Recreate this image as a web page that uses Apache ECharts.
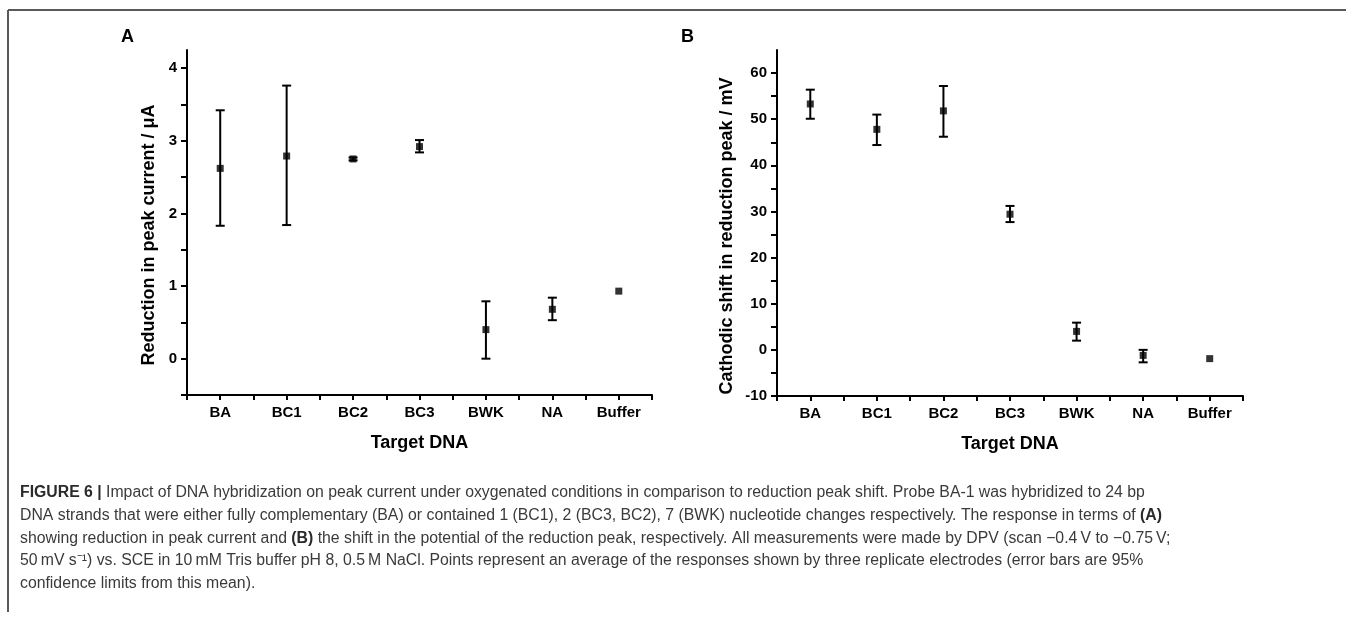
<!DOCTYPE html>
<html>
<head>
<meta charset="utf-8">
<script src="https://cdn.jsdelivr.net/npm/echarts@6/dist/echarts.min.js"></script>
<style>
html,body{margin:0;padding:0;background:#fff;}
#chart{width:1346px;height:621px;}
</style>
</head>
<body>
<div id="chart"></div>
<script>
// ---- data ----
const categories = ['BA', 'BC1', 'BC2', 'BC3', 'BWK', 'NA', 'Buffer'];
const categoryPos = [1, 2, 3, 4, 5, 6, 7];
const xTickValues = [0.5, 1, 1.5, 2, 2.5, 3, 3.5, 4, 4.5, 5, 5.5, 6, 6.5, 7, 7.5];

// Panel A: reduction in peak current (µA)
const currentMean = [2.62, 2.79, 2.75, 2.92, 0.40, 0.68, 0.93];
const currentLow  = [1.83, 1.84, 2.73, 2.84, 0.00, 0.53, 0.93];
const currentHigh = [3.42, 3.76, 2.77, 3.01, 0.79, 0.84, 0.93];
const currentTicks = [-0.5, 0, 0.5, 1, 1.5, 2, 2.5, 3, 3.5, 4];
const currentLabels = [0, 1, 2, 3, 4];

// Panel B: cathodic shift in reduction peak (mV)
const shiftMean = [53.3, 47.8, 51.8, 29.4, 4.0, -1.2, -1.9];
const shiftLow  = [50.1, 44.4, 46.2, 27.7, 2.0, -2.7, -1.9];
const shiftHigh = [56.4, 51.0, 57.2, 31.2, 5.9, 0.0, -1.9];
const shiftTicks = [-10, -5, 0, 5, 10, 15, 20, 25, 30, 35, 40, 45, 50, 55, 60];
const shiftLabels = [-10, 0, 10, 20, 30, 40, 50, 60];

const captionLines = [
  '{b|FIGURE 6 |} Impact of DNA hybridization on peak current under oxygenated conditions in comparison to reduction peak shift. Probe BA-1 was hybridized to 24 bp',
  'DNA strands that were either fully complementary (BA) or contained 1 (BC1), 2 (BC3, BC2), 7 (BWK) nucleotide changes respectively. The response in terms of {b|(A)}',
  'showing reduction in peak current and {b|(B)} the shift in the potential of the reduction peak, respectively. All measurements were made by DPV (scan \u22120.4\u2009V to \u22120.75\u2009V;',
  '50\u2009mV s\u207B\u00B9) vs. SCE in 10\u2009mM Tris buffer pH 8, 0.5\u2009M NaCl. Points represent an average of the responses shown by three replicate electrodes (error bars are 95%',
  'confidence limits from this mean).'
];

// ---- chart ----
const FONT = '"Liberation Sans", Arial, sans-serif';

function errRender(params, api) {
  const x = api.value(0);
  const lo = api.coord([x, api.value(1)]);
  const hi = api.coord([x, api.value(2)]);
  if (Math.abs(lo[1] - hi[1]) < 0.5) return null;
  const hw = 4.5;
  const st = { stroke: '#000', lineWidth: 2 };
  return {
    type: 'group',
    children: [
      { type: 'line', shape: { x1: lo[0], y1: lo[1], x2: hi[0], y2: hi[1] }, style: st },
      { type: 'line', shape: { x1: lo[0] - hw, y1: lo[1], x2: lo[0] + hw, y2: lo[1] }, style: st },
      { type: 'line', shape: { x1: hi[0] - hw, y1: hi[1], x2: hi[0] + hw, y2: hi[1] }, style: st }
    ]
  };
}

function xAxis(gridIndex) {
  return {
    type: 'value', gridIndex: gridIndex, min: 0.5, max: 7.5,
    splitLine: { show: false },
    axisLine: { show: true, onZero: false, lineStyle: { color: '#000', width: 2 } },
    axisTick: { show: true, inside: false, length: 5, lineStyle: { color: '#000', width: 2 }, customValues: xTickValues },
    axisLabel: {
      customValues: categoryPos, margin: 10,
      formatter: function (v) { return categories[Math.round(v) - 1] || ''; },
      color: '#000', fontFamily: FONT, fontWeight: 'bold', fontSize: 15
    },
    name: 'Target DNA', nameLocation: 'middle', nameGap: 39,
    nameTextStyle: { color: '#000', fontFamily: FONT, fontWeight: 'bold', fontSize: 18 }
  };
}

function yAxis(gridIndex, min, max, ticks, labels) {
  return {
    type: 'value', gridIndex: gridIndex, min: min, max: max,
    splitLine: { show: false },
    axisLine: { show: true, onZero: false, lineStyle: { color: '#000', width: 2 } },
    axisTick: { show: true, inside: false, length: 6, lineStyle: { color: '#000', width: 2 }, customValues: ticks },
    axisLabel: {
      customValues: labels, margin: 10,
      color: '#000', fontFamily: FONT, fontWeight: 'bold', fontSize: 15
    }
  };
}

function yTitle(text, x, y) {
  return {
    type: 'text', x: x, y: y, rotation: Math.PI / 2,
    style: { text: text, font: 'bold 18px ' + FONT, fill: '#000', align: 'center', verticalAlign: 'middle' }
  };
}

const chart = echarts.init(document.getElementById('chart'), null, { renderer: 'canvas' });

const captionGraphics = captionLines.map(function (line, i) {
  return {
    type: 'text', left: 20, top: 485 + i * 22.7,
    style: {
      text: line, fill: '#3a3a3a', font: '15.8px ' + FONT,
      rich: { b: { fontWeight: 'bold', fontFamily: FONT, fontSize: 15.8, fill: '#2a2a2a' } }
    }
  };
});

chart.setOption({
  animation: false,
  backgroundColor: '#fff',
  grid: [
    { left: 187, top: 50, width: 465, height: 345 },
    { left: 777, top: 50, width: 466, height: 346 }
  ],
  xAxis: [xAxis(0), xAxis(1)],
  yAxis: [
    yAxis(0, -0.5, 4.25, currentTicks, currentLabels),
    yAxis(1, -10, 65, shiftTicks, shiftLabels)
  ],
  graphic: [
    { type: 'line', shape: { x1: 8, y1: 10, x2: 1346, y2: 10 }, style: { stroke: '#5a5a5a', lineWidth: 2 } },
    { type: 'line', shape: { x1: 8, y1: 10, x2: 8, y2: 612 }, style: { stroke: '#5a5a5a', lineWidth: 2 } },
    { type: 'text', left: 121, top: 28, style: { text: 'A', font: 'bold 18px ' + FONT, fill: '#000' } },
    { type: 'text', left: 681, top: 28, style: { text: 'B', font: 'bold 18px ' + FONT, fill: '#000' } },
    yTitle('Reduction in peak current / \u03BCA', 149, 235),
    yTitle('Cathodic shift in reduction peak / mV', 727, 236)
  ].concat(captionGraphics),
  series: [
    {
      type: 'custom', xAxisIndex: 0, yAxisIndex: 0, renderItem: errRender,
      encode: { x: 0, y: [1, 2] },
      data: categoryPos.map(function (p, i) { return [p, currentLow[i], currentHigh[i]]; }), z: 2
    },
    {
      type: 'scatter', xAxisIndex: 0, yAxisIndex: 0, symbol: 'rect', symbolSize: 7,
      itemStyle: { color: '#000' },
      data: categoryPos.map(function (p, i) { return [p, currentMean[i]]; }), z: 3
    },
    {
      type: 'custom', xAxisIndex: 1, yAxisIndex: 1, renderItem: errRender,
      encode: { x: 0, y: [1, 2] },
      data: categoryPos.map(function (p, i) { return [p, shiftLow[i], shiftHigh[i]]; }), z: 2
    },
    {
      type: 'scatter', xAxisIndex: 1, yAxisIndex: 1, symbol: 'rect', symbolSize: 7,
      itemStyle: { color: '#000' },
      data: categoryPos.map(function (p, i) { return [p, shiftMean[i]]; }), z: 3
    }
  ]
});
</script>
</body>
</html>
